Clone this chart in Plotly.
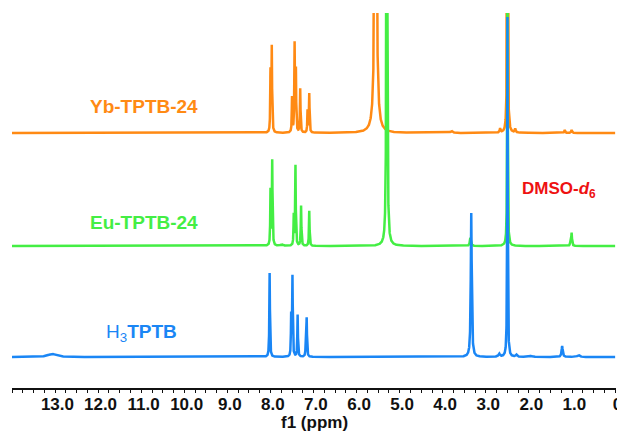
import numpy as np
import plotly.graph_objects as go

# ---- data (ppm, peak height in display units, half width ppm)
blue_pos = [13.07, 8.02, 7.52, 7.49, 7.37, 7.18, 7.16, 3.34, 2.50, 2.69, 2.29, 1.95, 1.23, 0.85]
blue_h   = [3, 84, 40, 80, 42, 14, 38, 144, 340, 3, 2, 1, 11, 2]
blue_w   = [0.12, 0.008, 0.007, 0.008, 0.008, 0.007, 0.008, 0.013, 0.007, 0.02, 0.02, 0.03, 0.015, 0.03]

green_pos = [8.00, 7.96, 7.74, 7.46, 7.42, 7.29, 7.10, 5.30, 3.36, 2.50, 1.04, 1.01]
green_h   = [55, 85, 1.5, 30, 80, 40, 35, 600, 8, 300, 3, 13]
green_w   = [0.007, 0.008, 0.03, 0.007, 0.008, 0.008, 0.008, 0.010, 0.015, 0.007, 0.01, 0.010]

orange_pos = [8.00, 7.97, 7.50, 7.44, 7.41, 7.31, 7.14, 7.10, 5.56, 3.80, 2.67, 2.50, 2.32, 1.17, 1.01]
orange_h   = [60, 85, 35, 88, 60, 44, 22, 39, 500, 2, 4, 500, 4, 3, 3]
orange_w   = [0.007, 0.008, 0.007, 0.008, 0.007, 0.008, 0.007, 0.008, 0.02, 0.03, 0.012, 0.007, 0.012, 0.012, 0.012]

offsets = {"blue": 31, "green": 142, "orange": 255}

tick_vals = [13, 12, 11, 10, 9, 8, 7, 6, 5, 4, 3, 2, 1, 0]
tick_text = ["13.0", "12.0", "11.0", "10.0", "9.0", "8.0", "7.0", "6.0", "5.0", "4.0", "3.0", "2.0", "1.0", "0"]

ppm = np.linspace(14.0, 0.0, 14001)


def spectrum(pos, h, w, base):
    y = np.full_like(ppm, base, dtype=float)
    for p, a, g in zip(pos, h, w):
        y += a * g * g / ((ppm - p) ** 2 + g * g)
    return y


FONT = "Liberation Sans, Arial, sans-serif"
C_OR = "#ff8a14"
C_GR = "#44ee44"
C_BL = "#1a86f5"

fig = go.Figure()
fig.add_trace(go.Scatter(x=ppm, y=spectrum(orange_pos, orange_h, orange_w, offsets["orange"]),
                         mode="lines", line=dict(color=C_OR, width=2.5), hoverinfo="skip"))
fig.add_trace(go.Scatter(x=ppm, y=spectrum(green_pos, green_h, green_w, offsets["green"]),
                         mode="lines", line=dict(color=C_GR, width=2.5), hoverinfo="skip"))
fig.add_trace(go.Scatter(x=ppm, y=spectrum(blue_pos, blue_h, blue_w, offsets["blue"]),
                         mode="lines", line=dict(color=C_BL, width=2.5), hoverinfo="skip"))

fig.update_layout(
    width=617, height=432,
    margin=dict(l=12, r=1, t=13, b=44, autoexpand=False),
    paper_bgcolor="white", plot_bgcolor="white",
    showlegend=False,
    font=dict(family=FONT),
)
fig.update_xaxes(
    range=[14.0, -0.02], showgrid=False, zeroline=False, automargin=False,
    showline=True, linecolor="#111", linewidth=1.6,
    ticks="", tickvals=tick_vals, ticktext=["\u00a0" + t for t in tick_text],
    ticklabeloverflow="allow",
    tickfont=dict(size=17, color="#111", family=FONT, weight="bold"),
    minor=dict(dtick=0.25, tick0=0, ticks="outside", ticklen=3, tickwidth=1.3, tickcolor="#111"),
)
fig.update_yaxes(range=[0, 375], visible=False, showgrid=False, zeroline=False, automargin=False)

fig.add_annotation(x=0.5, y=-0.091, xref="paper", yref="paper", text="<b>f1 (ppm)</b>", showarrow=False,
                   yanchor="middle", font=dict(size=17, color="#111", family=FONT))
fig.add_annotation(x=10.94, y=282, xref="x", yref="y", text="<b>Yb-TPTB-24</b>", showarrow=False,
                   font=dict(size=19, color=C_OR, family=FONT))
fig.add_annotation(x=10.94, y=166, xref="x", yref="y", text="<b>Eu-TPTB-24</b>", showarrow=False,
                   font=dict(size=19, color=C_GR, family=FONT))
fig.add_annotation(x=10.99, y=55, xref="x", yref="y", text="H<sub>3</sub><b>TPTB</b>", showarrow=False,
                   font=dict(size=19, color=C_BL, family=FONT))
fig.add_annotation(x=1.30, y=198, xref="x", yref="y", text="<b>DMSO-<i>d</i><sub>6</sub></b>", showarrow=False,
                   font=dict(size=17, color="#ee1111", family=FONT))

fig.write_html("out.html")
